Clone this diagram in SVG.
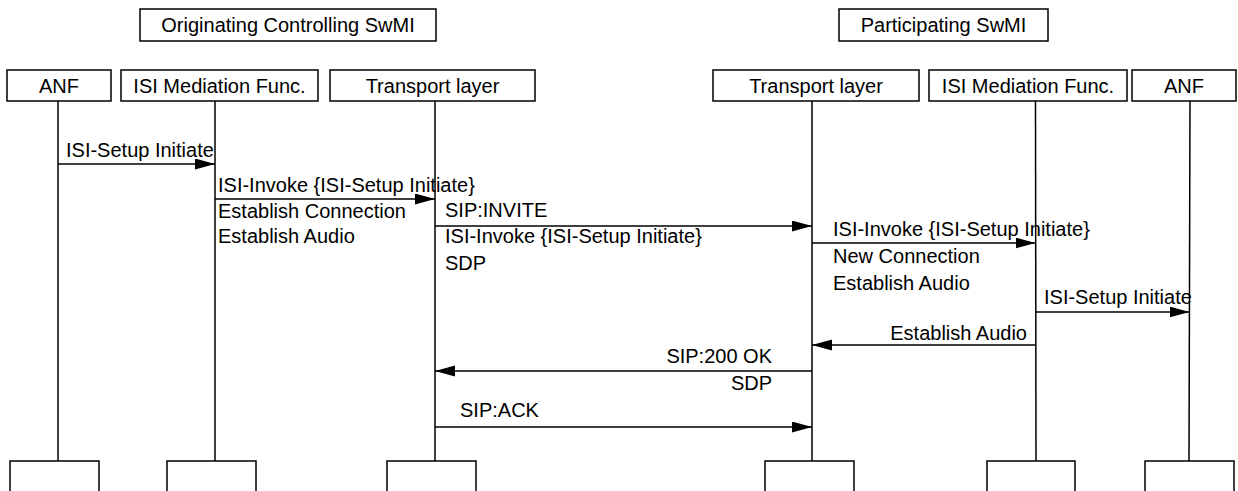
<svg xmlns="http://www.w3.org/2000/svg" width="1238" height="491" viewBox="0 0 1238 491">
<style>
.box{fill:#fff;stroke:#000;stroke-width:1.5}
.life{stroke:#000;stroke-width:1.5;fill:none}
.msg{stroke:#000;stroke-width:1.5;fill:none;marker-end:url(#ah)}
text{font-family:"Liberation Sans",Arial,sans-serif;font-size:20px;fill:#000}
.c{text-anchor:middle}
.r{text-anchor:end}
</style>
<defs>
<marker id="ah" markerUnits="userSpaceOnUse" markerWidth="20" markerHeight="12" refX="20" refY="5.5" orient="auto">
<path d="M0,0 L20,5.5 L0,11 z" fill="#000"/>
</marker>
</defs>
<rect x="0" y="0" width="1238" height="491" fill="#fff"/>
<g id="title-originating"><rect class="box" x="140" y="9" width="296" height="32"/><text class="c" x="288" y="32">Originating Controlling SwMI</text></g>
<g id="title-participating"><rect class="box" x="839" y="9" width="209" height="32"/><text class="c" x="943.5" y="32">Participating SwMI</text></g>
<g id="lifelines">
<line class="life" x1="58" y1="101" x2="58" y2="461"/>
<line class="life" x1="215" y1="101" x2="215" y2="461"/>
<line class="life" x1="435" y1="101" x2="435" y2="461"/>
<line class="life" x1="812" y1="101" x2="812" y2="461"/>
<line class="life" x1="1035.5" y1="101" x2="1036" y2="461"/>
<line class="life" x1="1190" y1="101" x2="1189" y2="461"/>
</g>
<g id="anf-left"><rect class="box" x="7" y="70" width="104" height="31"/><text class="c" x="59" y="93">ANF</text><rect class="box" x="10" y="461" width="89" height="34"/></g>
<g id="isi-left"><rect class="box" x="121" y="70" width="197" height="31"/><text class="c" x="219.5" y="93">ISI Mediation Func.</text><rect class="box" x="167" y="461" width="89" height="34"/></g>
<g id="transport-left"><rect class="box" x="330" y="70" width="205" height="31"/><text class="c" x="432.5" y="93">Transport layer</text><rect class="box" x="387" y="461" width="89" height="34"/></g>
<g id="transport-right"><rect class="box" x="713" y="70" width="206" height="31"/><text class="c" x="816" y="93">Transport layer</text><rect class="box" x="765" y="461" width="89" height="34"/></g>
<g id="isi-right"><rect class="box" x="929" y="70" width="198" height="31"/><text class="c" x="1028" y="93">ISI Mediation Func.</text><rect class="box" x="987" y="461" width="88" height="34"/></g>
<g id="anf-right"><rect class="box" x="1132" y="70" width="104" height="31"/><text class="c" x="1184" y="93">ANF</text><rect class="box" x="1145" y="461" width="89" height="34"/></g>
<g id="connectors">
<line class="msg" x1="58" y1="164" x2="215" y2="164"/>
<line class="msg" x1="215" y1="199" x2="435" y2="199"/>
<line class="msg" x1="435" y1="226" x2="812" y2="226"/>
<line class="msg" x1="812" y1="243" x2="1035.5" y2="243"/>
<line class="msg" x1="1035.5" y1="312" x2="1189.5" y2="312"/>
<line class="msg" x1="1035.5" y1="345" x2="812" y2="345"/>
<line class="msg" x1="812" y1="371" x2="435" y2="371"/>
<line class="msg" x1="435" y1="427" x2="812" y2="427"/>
</g>
<g id="labels">
<text x="66" y="157">ISI-Setup Initiate</text>
<text x="218" y="192">ISI-Invoke {ISI-Setup Initiate}</text>
<text x="218" y="218">Establish Connection</text>
<text x="218" y="243">Establish Audio</text>
<text x="445" y="217">SIP:INVITE</text>
<text x="445" y="243">ISI-Invoke {ISI-Setup Initiate}</text>
<text x="445" y="270">SDP</text>
<text x="833" y="236">ISI-Invoke {ISI-Setup Initiate}</text>
<text x="833" y="263">New Connection</text>
<text x="833" y="290">Establish Audio</text>
<text x="1044" y="304">ISI-Setup Initiate</text>
<text class="r" x="1027" y="340">Establish Audio</text>
<text class="r" x="772" y="363">SIP:200 OK</text>
<text class="r" x="772" y="390">SDP</text>
<text x="460" y="417">SIP:ACK</text>
</g>
</svg>
